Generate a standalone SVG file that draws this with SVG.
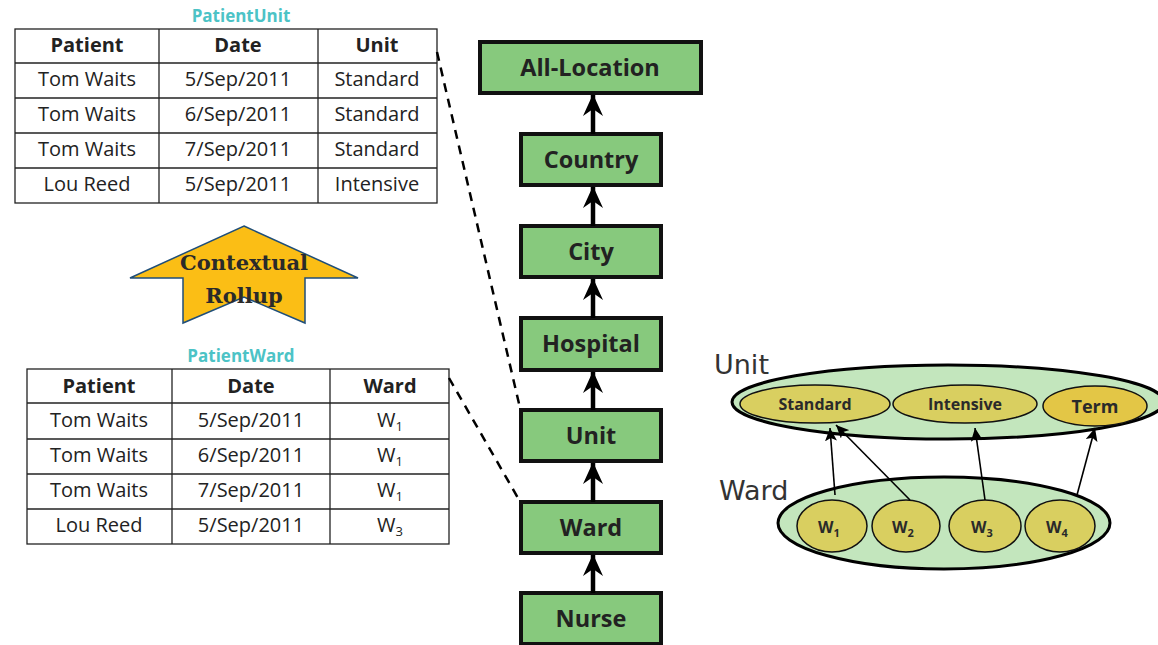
<svg xmlns="http://www.w3.org/2000/svg" width="1158" height="645" viewBox="0 0 1158 645">
<style>
.tbl line, .tbl rect{stroke:#222;stroke-width:1.3;fill:none}
.tt{font-family:"Open Sans","Liberation Sans",sans-serif;font-size:20px;fill:#222;text-anchor:middle}
.th{font-family:"Open Sans","Liberation Sans",sans-serif;font-size:20px;font-weight:bold;fill:#222;text-anchor:middle}
.title{font-family:"Open Sans","Liberation Sans",sans-serif;font-size:17px;font-weight:bold;fill:#4CC3C6;text-anchor:middle}
.box{fill:#87C97D;stroke:#111;stroke-width:4}
.bt{font-family:"Open Sans","Liberation Sans",sans-serif;font-size:23.5px;font-weight:bold;fill:#222;text-anchor:middle}
.hier{stroke:#000;stroke-width:4.5;fill:none}
.dash{stroke:#000;stroke-width:2.5;stroke-dasharray:9,7;fill:none}
.outer{fill:#C3E6BD;stroke:#000;stroke-width:3}
.inner{fill:#D9CF60;stroke:#111;stroke-width:1.5}
.et{font-family:"Open Sans","Liberation Sans",sans-serif;font-size:16px;font-weight:bold;fill:#2a2a2a;text-anchor:middle}
.lbl{font-family:"DejaVu Sans","Liberation Sans",sans-serif;font-size:27px;fill:#333}
.thin{stroke:#000;stroke-width:1.6;fill:none}
.rt{font-family:"DejaVu Serif","Liberation Serif",serif;font-size:21px;font-weight:bold;fill:#2a2a2a;text-anchor:middle}
</style>
<defs>
<marker id="big" viewBox="0 0 22 20" refX="21" refY="10" markerWidth="22" markerHeight="20" markerUnits="userSpaceOnUse" orient="auto">
<path d="M0 0 L22 10 L0 20 L7 10 Z" fill="#000"/>
</marker>
<marker id="sm" viewBox="0 0 13 12" refX="13" refY="6" markerWidth="13" markerHeight="12" markerUnits="userSpaceOnUse" orient="auto">
<path d="M0 0 L13 6 L0 12 L3 6 Z" fill="#000"/>
</marker>
</defs>

<g id="patientunit-table" class="tbl">
<text class="title" x="241" y="22">PatientUnit</text>
<rect x="15" y="29" width="422" height="174"/>
<line x1="159" y1="29" x2="159" y2="203"/>
<line x1="318" y1="29" x2="318" y2="203"/>
<line x1="15" y1="63" x2="437" y2="63"/>
<line x1="15" y1="98" x2="437" y2="98"/>
<line x1="15" y1="133" x2="437" y2="133"/>
<line x1="15" y1="168" x2="437" y2="168"/>
<text class="th" x="87" y="52">Patient</text>
<text class="th" x="238" y="52">Date</text>
<text class="th" x="377" y="52">Unit</text>
<text class="tt" x="87" y="86">Tom Waits</text>
<text class="tt" x="238" y="86">5/Sep/2011</text>
<text class="tt" x="377" y="86">Standard</text>
<text class="tt" x="87" y="121">Tom Waits</text>
<text class="tt" x="238" y="121">6/Sep/2011</text>
<text class="tt" x="377" y="121">Standard</text>
<text class="tt" x="87" y="156">Tom Waits</text>
<text class="tt" x="238" y="156">7/Sep/2011</text>
<text class="tt" x="377" y="156">Standard</text>
<text class="tt" x="87" y="191">Lou Reed</text>
<text class="tt" x="238" y="191">5/Sep/2011</text>
<text class="tt" x="377" y="191">Intensive</text>
</g>

<g id="contextual-rollup">
<path d="M244 226 L358 278 L305 278 L305 323 L244 297 L183 323 L183 278 L130 278 Z" fill="#FBBE15" stroke="#1F4E79" stroke-width="1.5"/>
<text class="rt" x="244" y="270">Contextual</text>
<text class="rt" x="244" y="303">Rollup</text>
</g>

<g id="patientward-table" class="tbl">
<text class="title" x="241" y="362">PatientWard</text>
<rect x="27" y="369" width="422" height="175"/>
<line x1="172" y1="369" x2="172" y2="544"/>
<line x1="330" y1="369" x2="330" y2="544"/>
<line x1="27" y1="403" x2="449" y2="403"/>
<line x1="27" y1="439" x2="449" y2="439"/>
<line x1="27" y1="474" x2="449" y2="474"/>
<line x1="27" y1="509" x2="449" y2="509"/>
<text class="th" x="99" y="393">Patient</text>
<text class="th" x="251" y="393">Date</text>
<text class="th" x="390" y="393">Ward</text>
<text class="tt" x="99" y="427">Tom Waits</text>
<text class="tt" x="251" y="427">5/Sep/2011</text>
<text class="tt" x="390" y="427">W<tspan font-size="13" dy="4">1</tspan></text>
<text class="tt" x="99" y="462">Tom Waits</text>
<text class="tt" x="251" y="462">6/Sep/2011</text>
<text class="tt" x="390" y="462">W<tspan font-size="13" dy="4">1</tspan></text>
<text class="tt" x="99" y="497">Tom Waits</text>
<text class="tt" x="251" y="497">7/Sep/2011</text>
<text class="tt" x="390" y="497">W<tspan font-size="13" dy="4">1</tspan></text>
<text class="tt" x="99" y="532">Lou Reed</text>
<text class="tt" x="251" y="532">5/Sep/2011</text>
<text class="tt" x="390" y="532">W<tspan font-size="13" dy="4">3</tspan></text>
</g>

<g id="all-location"><rect class="box" x="480" y="42" width="221" height="51"/><text class="bt" x="590" y="76">All-Location</text></g>
<g id="country"><rect class="box" x="521" y="134" width="140" height="51"/><text class="bt" x="591" y="168">Country</text></g>
<g id="city"><rect class="box" x="521" y="226" width="140" height="51"/><text class="bt" x="591" y="260">City</text></g>
<g id="hospital"><rect class="box" x="521" y="318" width="140" height="52"/><text class="bt" x="591" y="352">Hospital</text></g>
<g id="unit"><rect class="box" x="521" y="410" width="140" height="51"/><text class="bt" x="591" y="444">Unit</text></g>
<g id="ward"><rect class="box" x="521" y="502" width="140" height="51"/><text class="bt" x="591" y="536">Ward</text></g>
<g id="nurse"><rect class="box" x="521" y="593" width="140" height="51"/><text class="bt" x="591" y="627">Nurse</text></g>

<g id="unit-set">
<text class="lbl" x="714" y="374">Unit</text>
<ellipse class="outer" cx="948" cy="402" rx="216" ry="37"/>
<ellipse class="inner" cx="815" cy="404" rx="75" ry="19"/>
<text class="et" x="815" y="410">Standard</text>
<ellipse class="inner" cx="965" cy="404" rx="72" ry="19"/>
<text class="et" x="965" y="410">Intensive</text>
<ellipse class="inner" cx="1095" cy="406" rx="52" ry="20" style="fill:#E3C646"/>
<text class="et" x="1095" y="413" style="font-size:18px">Term</text>
</g>

<g id="ward-set">
<text class="lbl" x="719" y="500">Ward</text>
<ellipse class="outer" cx="944" cy="523" rx="166" ry="46"/>
<ellipse class="inner" cx="832" cy="526" rx="35" ry="26"/>
<text class="et" x="829" y="533">W<tspan font-size="11" dy="4">1</tspan></text>
<ellipse class="inner" cx="906" cy="526" rx="34" ry="26"/>
<text class="et" x="903" y="533">W<tspan font-size="11" dy="4">2</tspan></text>
<ellipse class="inner" cx="985" cy="526" rx="36" ry="26"/>
<text class="et" x="982" y="533">W<tspan font-size="11" dy="4">3</tspan></text>
<ellipse class="inner" cx="1060" cy="526" rx="35" ry="26"/>
<text class="et" x="1057" y="533">W<tspan font-size="11" dy="4">4</tspan></text>
</g>

<g id="connectors">
<line class="hier" x1="593" y1="134" x2="593" y2="95" marker-end="url(#big)"/>
<line class="hier" x1="593" y1="226" x2="593" y2="187" marker-end="url(#big)"/>
<line class="hier" x1="593" y1="318" x2="593" y2="279" marker-end="url(#big)"/>
<line class="hier" x1="593" y1="410" x2="593" y2="372" marker-end="url(#big)"/>
<line class="hier" x1="593" y1="502" x2="593" y2="463" marker-end="url(#big)"/>
<line class="hier" x1="593" y1="593" x2="593" y2="555" marker-end="url(#big)"/>
<line class="dash" x1="437" y1="52" x2="520" y2="408"/>
<line class="dash" x1="449" y1="378" x2="518" y2="498"/>
<line class="thin" x1="835" y1="495" x2="830" y2="428" marker-end="url(#sm)"/>
<line class="thin" x1="910" y1="500" x2="836" y2="425" marker-end="url(#sm)"/>
<line class="thin" x1="985" y1="500" x2="975" y2="428" marker-end="url(#sm)"/>
<line class="thin" x1="1077" y1="495" x2="1095" y2="428" marker-end="url(#sm)"/>
</g>
</svg>
